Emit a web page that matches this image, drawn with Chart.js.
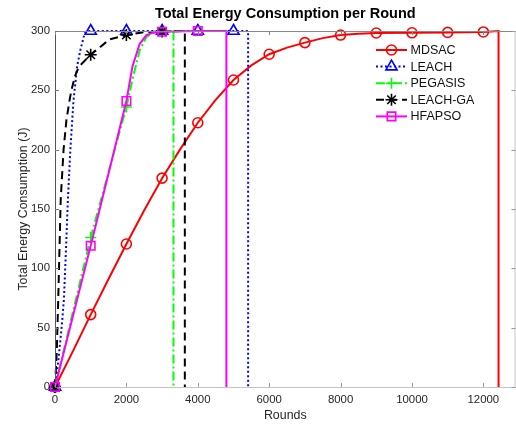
<!DOCTYPE html>
<html><head><meta charset="utf-8">
<script src="https://cdn.jsdelivr.net/npm/chart.js@4.4.1/dist/chart.umd.min.js"></script>
<style>html,body{margin:0;padding:0;background:#fff}#wrap{width:516px;height:425px}</style>
</head><body><div id="wrap"><canvas id="c" width="516" height="425"></canvas></div>
<script>
const chartTitle = 'Total Energy Consumption per Round';
const seriesNames = ['MDSAC', 'LEACH', 'PEGASIS', 'LEACH-GA', 'HFAPSO'];

const mdsacRounds = [0,500,1000,1500,2000,2500,3000,3500,4000,4500,5000,5500,6000,6500,7000,7500,8000,8500,9000,10000,11000,12000,12425,12425];
const mdsacEnergy = [0,30,61,91,120.5,149,176,200,222.7,242,258.7,271,280.4,286,290.2,294,296.6,297.7,298.3,298.5,298.8,299.2,300,0];

const leachRounds = [0,100,200,250,300,360,430,520,620,710,830,900,1000,2000,3000,4000,5000,5410,5410];
const leachEnergy = [0,24,55,74,110,157,200,242,270,284,298,300,300,300,300,300,300,300,0];

const pegasisRounds = [0,1000,2000,2185,2374,2562,2750,3000,3319,3319];
const pegasisEnergy = [0,126,236,261,284,295,298.5,299.5,300,0];

const leachGaRounds = [0,50,90,160,240,320,410,460,560,670,1000,1530,2000,2500,3000,3637,3637];
const leachGaEnergy = [0,30,73,158,200,225,242,250,262,270,280,293,296.6,299,299.5,300,0];

const hfapsoRounds = [0,1000,2000,2170,2370,2560,2750,3000,4000,4801,4801];
const hfapsoEnergy = [0,119,241,270,289,296.5,298.6,299.3,300,300,0];

const xTickValues = [0,2000,4000,6000,8000,10000,12000];
const yTickValues = [0,50,100,150,200,250,300];

function pts(xs, ys) { return xs.map((x, i) => ({x: x, y: ys[i]})); }
function markerAt(r) { return ctx => (ctx.raw && ctx.raw.x % 1000 === 0) ? r : 0; }

function mkDs(label, xs, ys, color, dash, style, r, order) {
  return {
    label: label, data: pts(xs, ys), showLine: true,
    borderColor: color, borderWidth: 2, borderDash: dash,
    pointStyle: style, pointRadius: markerAt(r), pointHoverRadius: markerAt(r),
    pointBorderColor: color, pointBackgroundColor: 'rgba(0,0,0,0)', pointBorderWidth: 1.6,
    markerSize: r, tension: 0, clip: false, order: order
  };
}

const datasets = [
  mkDs(seriesNames[0], mdsacRounds, mdsacEnergy, '#ff0000', [], 'circle', 5, 4),
  mkDs(seriesNames[1], leachRounds, leachEnergy, '#0000ff', [2, 2.5], 'triangle', 6.5, 3),
  mkDs(seriesNames[2], pegasisRounds, pegasisEnergy, '#00ff00', [9, 3, 2, 3], 'cross', 5.5, 2),
  mkDs(seriesNames[3], leachGaRounds, leachGaEnergy, '#000000', [8, 5], 'star', 6, 1),
  mkDs(seriesNames[4], hfapsoRounds, hfapsoEnergy, '#ff00ff', [], 'rect', 6, 0)
];

const FONT = '"Liberation Sans", Arial, Helvetica, sans-serif';

const boxPlugin = {
  id: 'boxPlugin',
  afterDatasetsDraw(chart) {
    const ctx = chart.ctx, a = chart.chartArea;
    const xs = chart.scales.x, ys = chart.scales.y;
    ctx.save();
    ctx.lineWidth = 1;
    const line = (x1, y1, x2, y2, c) => { ctx.strokeStyle = c; ctx.beginPath(); ctx.moveTo(x1, y1); ctx.lineTo(x2, y2); ctx.stroke(); };
    line(a.left + 0.5, a.top, a.left + 0.5, a.bottom, '#555');
    line(a.left, a.top + 0.5, a.right, a.top + 0.5, '#888');
    line(a.left, a.bottom + 0.5, a.right, a.bottom + 0.5, '#c4c4c4');
    line(a.right - 0.5, a.top, a.right - 0.5, a.bottom, '#c4c4c4');
    xTickValues.forEach(v => {
      const p = Math.round(xs.getPixelForValue(v)) + 0.5;
      line(p, a.bottom, p, a.bottom - 4, '#999');
      line(p, a.top, p, a.top + 4, '#888');
    });
    yTickValues.forEach(v => {
      const p = Math.round(ys.getPixelForValue(v)) + 0.5;
      line(a.left, p, a.left + 4, p, '#777');
      line(a.right, p, a.right - 4, p, '#999');
    });
    ctx.restore();
  },
  afterDraw(chart) {
    const ctx = chart.ctx, a = chart.chartArea;
    ctx.save();
    ctx.fillStyle = '#000';
    ctx.font = 'bold 14.5px ' + FONT;
    ctx.textAlign = 'center'; ctx.textBaseline = 'middle';
    ctx.fillText(chartTitle, (a.left + a.right) / 2, 13.5);
    chart.data.datasets.forEach((ds, i) => {
      const y = 50 + i * 16.6;
      ctx.strokeStyle = ds.borderColor; ctx.lineWidth = ds.borderWidth;
      ctx.setLineDash(ds.borderDash || []);
      ctx.beginPath(); ctx.moveTo(376, y); ctx.lineTo(407, y); ctx.stroke();
      ctx.setLineDash([]);
      ctx.fillStyle = 'rgba(0,0,0,0)';
      ctx.strokeStyle = ds.borderColor; ctx.lineWidth = ds.pointBorderWidth;
      Chart.helpers.drawPoint(ctx, {pointStyle: ds.pointStyle, rotation: 0, radius: ds.markerSize, borderWidth: ds.pointBorderWidth}, 391.5, y);
      ctx.fillStyle = '#111';
      ctx.font = '12.5px ' + FONT;
      ctx.textBaseline = 'middle'; ctx.textAlign = 'left';
      ctx.fillText(ds.label, 410.5, y + 0.5);
    });
    ctx.restore();
  }
};

new Chart(document.getElementById('c'), {
  type: 'scatter',
  data: { datasets: datasets },
  plugins: [boxPlugin],
  options: {
    responsive: false, animation: false, devicePixelRatio: 1, events: [],
    layout: { autoPadding: false, padding: { left: 0, right: 0.5, top: 31, bottom: 0 } },
    plugins: {
      legend: { display: false },
      tooltip: { enabled: false },
      title: { display: false }
    },
    scales: {
      x: {
        type: 'linear', min: 0, max: 12900,
        afterBuildTicks: s => { s.ticks = xTickValues.map(v => ({value: v})); },
        afterFit: s => { s.height = 38; s.paddingLeft = 0; s.paddingRight = 0; },
        grid: { display: false, drawTicks: false },
        border: { display: false },
        ticks: { color: '#262626', font: { family: FONT, size: 11.4 }, padding: 6.2, maxRotation: 0, autoSkip: false,
                 callback: v => String(v) },
        title: { display: true, text: 'Rounds', color: '#262626', font: { family: FONT, size: 12.4 }, padding: { top: 0, bottom: 1.5 } }
      },
      y: {
        type: 'linear', min: 0, max: 300,
        afterBuildTicks: s => { s.ticks = yTickValues.map(v => ({value: v})); },
        afterFit: s => { s.width = 55; s.paddingTop = 0; s.paddingBottom = 0; },
        grid: { display: false, drawTicks: false },
        border: { display: false },
        ticks: { color: '#262626', font: { family: FONT, size: 11.4 }, padding: 5, callback: v => String(v) },
        title: { display: true, text: 'Total Energy Consumption (J)', color: '#262626', font: { family: FONT, size: 12.4 }, padding: { top: 16, bottom: 0 } }
      }
    }
  }
});
</script>
</body></html>
